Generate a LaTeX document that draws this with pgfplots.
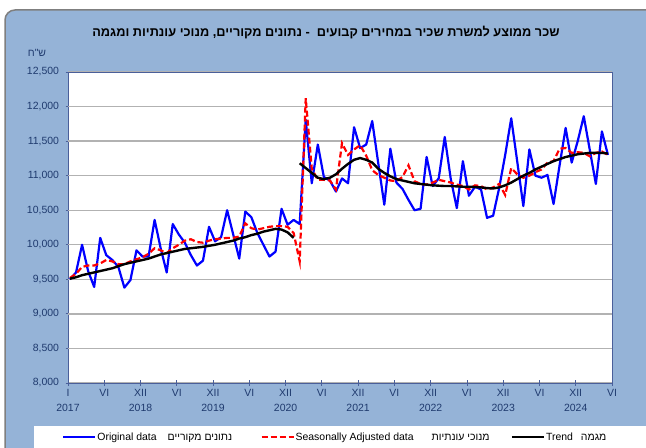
\documentclass[border=0pt]{standalone}
\usepackage{fontspec}
\setmainfont{Liberation Sans}
\newfontfamily\hebfont[Script=Hebrew]{Liberation Sans}
\TeXXeTstate=1
\usepackage{pgfplots}
\usepackage{pgfplotstable}
\pgfplotsset{compat=1.18}
\definecolor{bgblue}{HTML}{95B3D7}
\definecolor{framegray}{HTML}{7F7F7F}
\definecolor{navy}{HTML}{1F3A6E}
\definecolor{axisblue}{HTML}{4A5F9A}
\definecolor{gridcol}{RGB}{178,178,178}

% monthly values, Jan 2017 - Jun 2024
% orig = original, sa = seasonally adjusted, tra/trb = trend before/after the break
\pgfplotstableread{
orig sa tra trb
9500 9520 9510 nan
9600 9580 9530 nan
10000 9680 9560 nan
9620 9700 9580 nan
9390 9700 9600 nan
10100 9730 9620 nan
9850 9780 9640 nan
9780 9760 9660 nan
9680 9720 9690 nan
9380 9720 9720 nan
9490 9760 9740 nan
9920 9790 9760 nan
9830 9820 9780 nan
9830 9870 9800 nan
10360 9950 9830 nan
9950 9920 9860 nan
9600 9880 9880 nan
10300 9950 9900 nan
10150 10000 9920 nan
10030 10060 9940 nan
9850 10080 9950 nan
9700 10040 9960 nan
9770 10030 9970 nan
10260 10060 9985 nan
10050 10080 10000 nan
10110 10090 10020 nan
10500 10100 10040 nan
10150 10100 10060 nan
9800 10120 10090 nan
10480 10310 10110 nan
10400 10240 10140 nan
10170 10220 10160 nan
10000 10240 10190 nan
9830 10260 10210 nan
9900 10270 10230 nan
10520 10270 10220 nan
10290 10260 10180 nan
10360 10170 10100 nan
10300 9760 nan 11180
11810 12120 nan 11110
10890 11100 nan 11040
11450 10940 nan 10970
10980 10940 nan 10950
10930 10930 nan 10970
10770 10800 nan 11020
10960 11470 nan 11100
10890 11300 nan 11170
11700 11380 nan 11230
11400 11440 nan 11255
11450 11290 nan 11230
11790 11080 nan 11190
11180 11010 nan 11100
10580 10970 nan 11040
11390 10930 nan 10990
10900 10920 nan 10950
10810 10980 nan 10930
10650 11150 nan 10910
10500 10920 nan 10890
10520 10880 nan 10880
11270 10870 nan 10870
10850 10900 nan 10860
10960 10940 nan 10855
11560 10920 nan 10850
10950 10900 nan 10850
10530 10870 nan 10845
11210 10850 nan 10840
10710 10800 nan 10840
10840 10860 nan 10835
10800 10850 nan 10830
10390 10800 nan 10820
10420 10830 nan 10815
10820 10880 nan 10830
11300 10720 nan 10860
11830 11110 nan 10900
11200 11020 nan 10950
10560 10970 nan 11000
11380 11000 nan 11040
11000 11050 nan 11090
10970 11090 nan 11130
11010 11190 nan 11170
10590 11210 nan 11210
11150 11390 nan 11240
11690 11400 nan 11270
11190 11330 nan 11290
11500 11340 nan 11310
11860 11330 nan 11320
11370 11280 nan 11330
10880 11330 nan 11330
11640 11350 nan 11330
11300 11300 nan 11320
}\wagedata

\begin{document}
\begin{tikzpicture}
\useasboundingbox (0bp,0bp) rectangle (646bp,448bp);
\fill[white] (0bp,0bp) rectangle (646bp,448bp);
\begin{scope}
  \clip (0bp,0bp) rectangle (646bp,448bp);
  \draw[framegray, line width=1.5bp, fill=bgblue, rounded corners=10bp] (5bp,-20bp) rectangle (680bp,438bp);
\end{scope}
\fill[white] (34bp,0bp) rectangle (646bp,22bp);
\fill[white] (68bp,65bp) rectangle (612bp,376bp);

\node[font=\bfseries\fontsize{12.8}{15}\selectfont] at (326bp,415bp)
  {\hebfont\beginR שכר ממוצע למשרת שכיר במחירים קבועים \ - נתונים מקוריים, מנוכי עונתיות ומגמה\endR};
\node[text=navy, font=\fontsize{10.5}{12}\selectfont] at (37bp,395bp) {\hebfont\beginR ש"ח\endR};

\begin{axis}[
  at={(68bp,65bp)}, anchor=south west,
  scale only axis, width=544bp, height=311bp,
  xmin=0, xmax=90, ymin=8000, ymax=12500,
  axis line style={axisblue, line width=0.8bp},
  ytick={8000,8500,...,12500},
  scaled y ticks=false,
  yticklabel={\pgfmathprintnumber[fixed,precision=0,1000 sep={,},assume math mode=true]{\tick}},
  ymajorgrids=true,
  major grid style={draw=gridcol, line width=1.4bp},
  xtick={0,6,...,90},
  xticklabels={{I\\2017},VI,{XII\\2018},VI,{XII\\2019},VI,{XII\\2020},VI,
    {XII\\2021},VI,{XII\\2022},VI,{XII\\2023},VI,{XII\\2024},VI},
  xtick pos=bottom, ytick pos=left,
  tick align=center, major tick length=5bp,
  major tick style={axisblue, line width=0.8bp},
  xticklabel style={align=center, text=navy, font=\fontsize{10.5}{15}\selectfont},
  yticklabel style={text=navy, font=\fontsize{10.5}{12}\selectfont, xshift=-3bp},
  legend columns=3,
  legend style={at={(-0.0165,-0.174)}, anchor=west, draw=none, fill=none,
    font=\fontsize{10.5}{12}\selectfont, nodes={inner xsep=1bp, inner ysep=0bp}},
  legend cell align=left,
  legend image code/.code={\draw[#1] (0bp,0bp) -- (32bp,0bp);},
]
% horizontal grid bands at every 500 (thin filled strips)
\addplot[fill=gridcol, draw=none, forget plot] coordinates {(0,8490) (90,8490) (90,8510) (0,8510)};
\addplot[fill=gridcol, draw=none, forget plot] coordinates {(0,8990) (90,8990) (90,9010) (0,9010)};
\addplot[fill=gridcol, draw=none, forget plot] coordinates {(0,9490) (90,9490) (90,9510) (0,9510)};
\addplot[fill=gridcol, draw=none, forget plot] coordinates {(0,9990) (90,9990) (90,10010) (0,10010)};
\addplot[fill=gridcol, draw=none, forget plot] coordinates {(0,10490) (90,10490) (90,10510) (0,10510)};
\addplot[fill=gridcol, draw=none, forget plot] coordinates {(0,10990) (90,10990) (90,11010) (0,11010)};
\addplot[fill=gridcol, draw=none, forget plot] coordinates {(0,11490) (90,11490) (90,11510) (0,11510)};
\addplot[fill=gridcol, draw=none, forget plot] coordinates {(0,11990) (90,11990) (90,12010) (0,12010)};
\addplot[blue, line width=2.2bp, line join=round] table[x expr=\coordindex+0.33, y=orig] {\wagedata};
\addlegendentry{\makebox[162bp][l]{Original data\hspace{11bp}{\hebfont\beginR נתונים מקוריים\endR}}}
\addplot[red, line width=2.2bp, dash pattern=on 6bp off 3bp] table[x expr=\coordindex+0.33, y=sa] {\wagedata};
\addlegendentry{\makebox[214bp][l]{Seasonally Adjusted data\hspace{18bp}{\hebfont\beginR מנוכי עונתיות\endR}}}
\addplot[black, line width=2.4bp, forget plot] table[x expr=\coordindex+0.33, y=tra] {\wagedata};
\addplot[black, line width=2.4bp] table[x expr=\coordindex+0.33, y=trb] {\wagedata};
\addlegendentry{Trend\hspace{8bp}{\hebfont\beginR מגמה\endR}}
\end{axis}
\end{tikzpicture}
\end{document}
